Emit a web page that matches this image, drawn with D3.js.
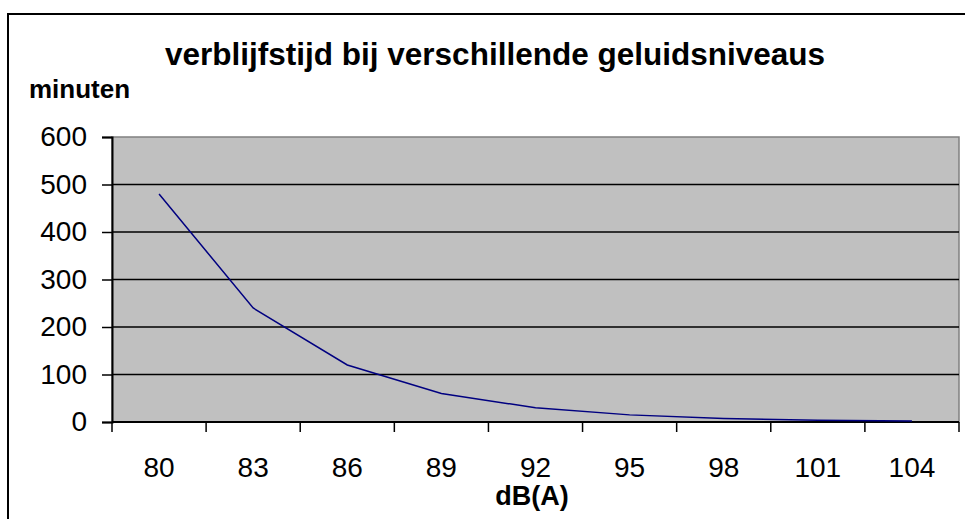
<!DOCTYPE html>
<html>
<head>
<meta charset="utf-8">
<script src="https://cdn.jsdelivr.net/npm/d3@7"></script>
<style>
  body { margin: 0; background: #fff; }
  svg { display: block; font-family: "Liberation Sans", Arial, sans-serif; }
</style>
</head>
<body>
<div id="chart"></div>
<script>
// dB(A) niveaus en toegestane verblijfstijd (minuten)
const niveaus = ["80", "83", "86", "89", "92", "95", "98", "101", "104"];
const minuten = [480, 240, 120, 60, 30, 15, 7.5, 3.75, 1.875];
const yTicks = [0, 100, 200, 300, 400, 500, 600];

const width = 965, height = 519;
const plot = { left: 112, right: 959, top: 137, bottom: 422 };

const svg = d3.select("#chart").append("svg")
    .attr("width", width)
    .attr("height", height);

// buitenrand van de grafiek
svg.append("rect")
    .attr("x", 8).attr("y", 14)
    .attr("width", width + 10).attr("height", height + 10)
    .attr("fill", "#fff")
    .attr("stroke", "#000")
    .attr("stroke-width", 2);

const x = d3.scaleBand()
    .domain(niveaus)
    .range([plot.left, plot.right]);

const y = d3.scaleLinear()
    .domain([0, 600])
    .range([plot.bottom, plot.top]);

// grijs plotvlak
svg.append("rect")
    .attr("x", plot.left).attr("y", plot.top)
    .attr("width", plot.right - plot.left)
    .attr("height", plot.bottom - plot.top)
    .attr("fill", "#c0c0c0")
    .attr("stroke", "#808080")
    .attr("stroke-width", 1.5);

// rasterlijnen
svg.append("g")
    .selectAll("line")
    .data(yTicks.filter(d => d > 0 && d < 600))
    .join("line")
    .attr("x1", plot.left).attr("x2", plot.right)
    .attr("y1", d => y(d)).attr("y2", d => y(d))
    .attr("stroke", "#000")
    .attr("stroke-width", 1.5);

// y-as
const yAxis = svg.append("g")
    .attr("transform", `translate(${plot.left},0)`)
    .call(d3.axisLeft(y).tickValues(yTicks).tickSize(10).tickPadding(15));
yAxis.select(".domain").attr("stroke-width", 2);
yAxis.selectAll(".tick line").attr("stroke-width", 1.5);
yAxis.selectAll("text").attr("font-size", 28).attr("fill", "#000")
    .attr("font-family", "Liberation Sans, Arial, sans-serif");

// x-as, ticks tussen de categorieën
const grens = niveaus.map(d => x(d)).concat([plot.right]);
svg.append("line")
    .attr("x1", plot.left).attr("x2", plot.right)
    .attr("y1", plot.bottom).attr("y2", plot.bottom)
    .attr("stroke", "#000").attr("stroke-width", 2);
svg.append("g")
    .selectAll("line")
    .data(grens)
    .join("line")
    .attr("x1", d => d).attr("x2", d => d)
    .attr("y1", plot.bottom).attr("y2", plot.bottom + 10)
    .attr("stroke", "#000").attr("stroke-width", 1.5);
svg.append("g")
    .selectAll("text")
    .data(niveaus)
    .join("text")
    .attr("x", d => x(d) + x.bandwidth() / 2)
    .attr("y", 477)
    .attr("text-anchor", "middle")
    .attr("font-size", 28)
    .text(d => d);

// lijn
const lijn = d3.line()
    .x((d, i) => x(niveaus[i]) + x.bandwidth() / 2)
    .y(d => y(d));
svg.append("path")
    .datum(minuten)
    .attr("d", lijn)
    .attr("fill", "none")
    .attr("stroke", "#000080")
    .attr("stroke-width", 1.5);

// titels
svg.append("text")
    .attr("x", 495).attr("y", 65)
    .attr("text-anchor", "middle")
    .attr("font-size", 31.5).attr("font-weight", "bold")
    .text("verblijfstijd bij verschillende geluidsniveaus");
svg.append("text")
    .attr("x", 29).attr("y", 98)
    .attr("font-size", 26).attr("font-weight", "bold")
    .text("minuten");
svg.append("text")
    .attr("x", 532).attr("y", 505)
    .attr("text-anchor", "middle")
    .attr("font-size", 27).attr("font-weight", "bold")
    .text("dB(A)");
</script>
</body>
</html>
